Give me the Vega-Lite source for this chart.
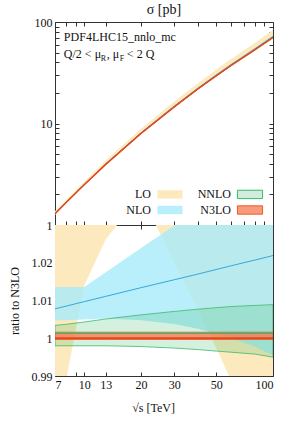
{
  "$schema": "https://vega.github.io/schema/vega-lite/v6.json",
  "background": "white",
  "padding": {"left": 7, "right": 6, "top": 2, "bottom": 2},
  "datasets": {
    "d": [
      {"s":7,"o":"LO","lo":1.256,"hi":1.367,"rlo":0.974,"rhi":1.06},
      {"s":8,"o":"LO","lo":1.641,"hi":1.768,"rlo":0.9888,"rhi":1.065},
      {"s":10,"o":"LO","lo":2.525,"hi":2.677,"rlo":1.014,"rhi":1.075},
      {"s":13,"o":"LO","lo":4.064,"hi":4.316,"rlo":1.0262,"rhi":1.09},
      {"s":20,"o":"LO","lo":8.304,"hi":8.88,"rlo":1.038,"rhi":1.11},
      {"s":30,"o":"LO","lo":14.89,"hi":16.5,"rlo":1.02,"rhi":1.13},
      {"s":40,"o":"LO","lo":22.06,"hi":24.97,"rlo":1.0075,"rhi":1.14},
      {"s":50,"o":"LO","lo":29.43,"hi":33.93,"rlo":0.9975,"rhi":1.15},
      {"s":60,"o":"LO","lo":36.88,"hi":43.27,"rlo":0.9888,"rhi":1.16},
      {"s":80,"o":"LO","lo":51.95,"hi":62.24,"rlo":0.9765,"rhi":1.17},
      {"s":100,"o":"LO","lo":68.17,"hi":83.19,"rlo":0.967,"rhi":1.18},

      {"s":7,"o":"NLO","lo":1.296,"hi":1.308,"c":1.3,"rlo":1.0047,"rhi":1.0136,"rc":1.0078},
      {"s":8,"o":"NLO","lo":1.668,"hi":1.683,"c":1.674,"rlo":1.0048,"rhi":1.0136,"rc":1.0085},
      {"s":10,"o":"NLO","lo":2.502,"hi":2.524,"c":2.514,"rlo":1.005,"rhi":1.0136,"rc":1.0097},
      {"s":13,"o":"NLO","lo":3.981,"hi":4.029,"c":4.004,"rlo":1.0052,"rhi":1.0175,"rc":1.0111},
      {"s":20,"o":"NLO","lo":8.038,"hi":8.191,"c":8.107,"rlo":1.0048,"rhi":1.0239,"rc":1.0134},
      {"s":30,"o":"NLO","lo":14.66,"hi":15.04,"c":14.83,"rlo":1.0038,"rhi":1.0298,"rc":1.0155},
      {"s":40,"o":"NLO","lo":21.95,"hi":22.65,"c":22.27,"rlo":1.0025,"rhi":1.0341,"rc":1.017},
      {"s":50,"o":"NLO","lo":29.54,"hi":30.6,"c":30.04,"rlo":1.0012,"rhi":1.0374,"rc":1.0182},
      {"s":60,"o":"NLO","lo":37.3,"hi":38.8,"c":38.02,"rlo":1.0,"rhi":1.0401,"rc":1.0192},
      {"s":80,"o":"NLO","lo":53.08,"hi":55.56,"c":54.3,"rlo":0.9978,"rhi":1.0443,"rc":1.0207},
      {"s":100,"o":"NLO","lo":70.18,"hi":73.86,"c":72.04,"rlo":0.9955,"rhi":1.0477,"rc":1.0219},

      {"s":7,"o":"NNLO","lo":1.287,"hi":1.294,"c":1.292,"rlo":0.998,"rhi":1.0034,"rc":1.0013},
      {"s":8,"o":"NNLO","lo":1.657,"hi":1.666,"c":1.662,"rlo":0.998,"rhi":1.0037,"rc":1.0013},
      {"s":10,"o":"NNLO","lo":2.485,"hi":2.501,"c":2.493,"rlo":0.998,"rhi":1.0043,"rc":1.0013},
      {"s":13,"o":"NNLO","lo":3.952,"hi":3.98,"c":3.965,"rlo":0.998,"rhi":1.0051,"rc":1.0013},
      {"s":20,"o":"NNLO","lo":7.982,"hi":8.05,"c":8.01,"rlo":0.9978,"rhi":1.0062,"rc":1.0013},
      {"s":30,"o":"NNLO","lo":14.56,"hi":14.7,"c":14.62,"rlo":0.9974,"rhi":1.0071,"rc":1.0013},
      {"s":40,"o":"NNLO","lo":21.83,"hi":22.07,"c":21.93,"rlo":0.997,"rhi":1.0077,"rc":1.0013},
      {"s":50,"o":"NNLO","lo":29.4,"hi":29.74,"c":29.54,"rlo":0.9966,"rhi":1.0081,"rc":1.0013},
      {"s":60,"o":"NNLO","lo":37.16,"hi":37.61,"c":37.35,"rlo":0.9963,"rhi":1.0084,"rc":1.0013},
      {"s":80,"o":"NNLO","lo":52.98,"hi":53.66,"c":53.27,"rlo":0.9958,"rhi":1.0087,"rc":1.0013},
      {"s":100,"o":"NNLO","lo":70.15,"hi":71.13,"c":70.59,"rlo":0.995,"rhi":1.0089,"rc":1.0013},

      {"s":7,"o":"N3LO","lo":1.2896,"hi":1.2921,"c":1.29,"rlo":0.9997,"rhi":1.0016,"rc":1},
      {"s":8,"o":"N3LO","lo":1.6595,"hi":1.6627,"c":1.66,"rlo":0.9997,"rhi":1.0016,"rc":1},
      {"s":10,"o":"N3LO","lo":2.4893,"hi":2.494,"c":2.49,"rlo":0.9997,"rhi":1.0016,"rc":1},
      {"s":13,"o":"N3LO","lo":3.9588,"hi":3.9663,"c":3.96,"rlo":0.9997,"rhi":1.0016,"rc":1},
      {"s":20,"o":"N3LO","lo":7.998,"hi":8.013,"c":8.0,"rlo":0.9997,"rhi":1.0016,"rc":1},
      {"s":30,"o":"N3LO","lo":14.596,"hi":14.623,"c":14.6,"rlo":0.9997,"rhi":1.0016,"rc":1},
      {"s":40,"o":"N3LO","lo":21.893,"hi":21.935,"c":21.9,"rlo":0.9997,"rhi":1.0016,"rc":1},
      {"s":50,"o":"N3LO","lo":29.491,"hi":29.547,"c":29.5,"rlo":0.9997,"rhi":1.0016,"rc":1},
      {"s":60,"o":"N3LO","lo":37.289,"hi":37.36,"c":37.3,"rlo":0.9997,"rhi":1.0016,"rc":1},
      {"s":80,"o":"N3LO","lo":53.184,"hi":53.285,"c":53.2,"rlo":0.9997,"rhi":1.0016,"rc":1},
      {"s":100,"o":"N3LO","lo":70.479,"hi":70.613,"c":70.5,"rlo":0.9997,"rhi":1.0016,"rc":1}
    ]
  },
  "data": {"name": "d"},
  "bounds": "flush",
  "spacing": 0,
  "vconcat": [
    {
      "width": 218,
      "height": 203,
      "title": {"text": "σ [pb]", "fontSize": 14, "fontWeight": "normal", "font": "Liberation Serif", "offset": -1, "color": "#111"},
      "layer": [
        {
          "transform": [{"filter": "datum.o === 'LO'"}],
          "mark": {"type": "area", "clip": true},
          "encoding": {
            "x": {"field": "s", "type": "quantitative", "scale": {"type": "log", "domain": [7, 100], "nice": false},
                  "axis": {"orient": "bottom", "labels": false, "title": null, "minExtent": 0, "maxExtent": 0, "values": [7,8,9,10,13,20,30,40,50,60,70,80,90,100]}},
            "y": {"field": "lo", "type": "quantitative", "scale": {"type": "log", "domain": [1, 100], "nice": false},
                  "axis": {"orient": "left", "title": null, "values": [1,2,3,4,5,6,7,8,9,10,20,30,40,50,60,70,80,90,100], "format": "d",
                           "labelExpr": "datum.value === 1 || datum.value === 10 || datum.value === 100 ? datum.label : ''"}},
            "y2": {"field": "hi"},
            "fill": {"datum": "LO", "type": "nominal",
                     "scale": {"domain": ["LO", "NNLO", "NLO", "N3LO"], "range": ["#fde9be", "rgba(60,185,107,0.25)", "rgba(168,235,250,0.8)", "rgba(245,120,80,0.75)"]},
                     "legend": {"orient": "none", "legendX": 106, "legendY": 163, "title": null, "columns": 2, "direction": "horizontal",
                                "symbolType": "M-1.5,-0.5H1.5V0.5H-1.5Z", "symbolSize": 280, "labelAlign": "right", "labelOffset": -28,
                                "labelFontSize": 12, "labelFont": "Liberation Serif", "labelColor": "#111", "columnPadding": 12, "rowPadding": 0,
                                "symbolStrokeWidth": 1, "labelLimit": 100,
                                "encode": {"symbols": {"update": {"stroke": {"signal": "datum.value === 'NNLO' ? '#3cb96b' : datum.value === 'N3LO' ? '#f05a28' : 'transparent'"}, "strokeWidth": {"value": 1}}}}}}
          }
        },
        {
          "transform": [{"filter": "datum.o === 'NLO'"}],
          "mark": {"type": "area", "clip": true},
          "encoding": {
            "x": {"field": "s", "type": "quantitative", "scale": {"type": "log", "domain": [7, 100], "nice": false}, "axis": null},
            "y": {"field": "lo", "type": "quantitative", "scale": {"type": "log", "domain": [1, 100], "nice": false}, "axis": null},
            "y2": {"field": "hi"},
            "fill": {"datum": "NLO", "type": "nominal"}
          }
        },
        {
          "transform": [{"filter": "datum.o === 'NNLO'"}],
          "mark": {"type": "area", "clip": true, "stroke": "#3cb96b", "strokeWidth": 0.6},
          "encoding": {
            "x": {"field": "s", "type": "quantitative", "scale": {"type": "log", "domain": [7, 100], "nice": false}, "axis": null},
            "y": {"field": "lo", "type": "quantitative", "scale": {"type": "log", "domain": [1, 100], "nice": false}, "axis": null},
            "y2": {"field": "hi"},
            "fill": {"datum": "NNLO", "type": "nominal"}
          }
        },
        {
          "transform": [{"filter": "datum.o === 'N3LO'"}],
          "mark": {"type": "area", "clip": true, "stroke": "#f05a28", "strokeWidth": 0.6},
          "encoding": {
            "x": {"field": "s", "type": "quantitative", "scale": {"type": "log", "domain": [7, 100], "nice": false}, "axis": null},
            "y": {"field": "lo", "type": "quantitative", "scale": {"type": "log", "domain": [1, 100], "nice": false}, "axis": null},
            "y2": {"field": "hi"},
            "fill": {"datum": "N3LO", "type": "nominal"}
          }
        },
        {
          "transform": [{"filter": "datum.o === 'NLO'"}],
          "mark": {"type": "line", "clip": true, "color": "#35a7dc", "strokeWidth": 1},
          "encoding": {
            "x": {"field": "s", "type": "quantitative", "scale": {"type": "log", "domain": [7, 100], "nice": false}, "axis": null},
            "y": {"field": "c", "type": "quantitative", "scale": {"type": "log", "domain": [1, 100], "nice": false}, "axis": null}
          }
        },
        {
          "transform": [{"filter": "datum.o === 'NNLO'"}],
          "mark": {"type": "line", "clip": true, "color": "#3cb96b", "strokeWidth": 1},
          "encoding": {
            "x": {"field": "s", "type": "quantitative", "scale": {"type": "log", "domain": [7, 100], "nice": false}, "axis": null},
            "y": {"field": "c", "type": "quantitative", "scale": {"type": "log", "domain": [1, 100], "nice": false}, "axis": null}
          }
        },
        {
          "transform": [{"filter": "datum.o === 'N3LO'"}],
          "mark": {"type": "line", "clip": true, "color": "#e8461a", "strokeWidth": 1.5},
          "encoding": {
            "x": {"field": "s", "type": "quantitative", "scale": {"type": "log", "domain": [7, 100], "nice": false},
                  "axis": {"orient": "top", "labels": false, "title": null, "minExtent": 0, "maxExtent": 0, "values": [7,8,9,10,13,20,30,40,50,60,70,80,90,100]}},
            "y": {"field": "c", "type": "quantitative", "scale": {"type": "log", "domain": [1, 100], "nice": false},
                  "axis": {"orient": "right", "labels": false, "title": null, "minExtent": 0, "maxExtent": 0, "values": [1,2,3,4,5,6,7,8,9,10,20,30,40,50,60,70,80,90,100]}}
          }
        },
        {
          "data": {"values": [{}]},
          "mark": {"type": "text", "align": "left", "baseline": "alphabetic", "fontSize": 12, "font": "Liberation Serif", "color": "#111", "text": "PDF4LHC15_nnlo_mc"},
          "encoding": {"x": {"datum": 7.8, "type": "quantitative", "axis": null}, "y": {"datum": 65, "type": "quantitative", "axis": null}}
        },
        {
          "data": {"values": [{}]},
          "mark": {"type": "text", "align": "left", "baseline": "alphabetic", "fontSize": 12, "font": "Liberation Serif", "color": "#111", "text": "Q/2 < μ"},
          "encoding": {"x": {"datum": 7.8, "type": "quantitative", "axis": null}, "y": {"datum": 44, "type": "quantitative", "axis": null}}
        },
        {
          "data": {"values": [{}]},
          "mark": {"type": "text", "align": "left", "baseline": "alphabetic", "fontSize": 8, "font": "Liberation Serif", "color": "#111", "text": "R", "dx": 37, "dy": 3},
          "encoding": {"x": {"datum": 7.8, "type": "quantitative", "axis": null}, "y": {"datum": 44, "type": "quantitative", "axis": null}}
        },
        {
          "data": {"values": [{}]},
          "mark": {"type": "text", "align": "left", "baseline": "alphabetic", "fontSize": 12, "font": "Liberation Serif", "color": "#111", "text": ", μ", "dx": 43},
          "encoding": {"x": {"datum": 7.8, "type": "quantitative", "axis": null}, "y": {"datum": 44, "type": "quantitative", "axis": null}}
        },
        {
          "data": {"values": [{}]},
          "mark": {"type": "text", "align": "left", "baseline": "alphabetic", "fontSize": 8, "font": "Liberation Serif", "color": "#111", "text": "F", "dx": 56, "dy": 3},
          "encoding": {"x": {"datum": 7.8, "type": "quantitative", "axis": null}, "y": {"datum": 44, "type": "quantitative", "axis": null}}
        },
        {
          "data": {"values": [{}]},
          "mark": {"type": "text", "align": "left", "baseline": "alphabetic", "fontSize": 12, "font": "Liberation Serif", "color": "#111", "text": "< 2 Q", "dx": 63},
          "encoding": {"x": {"datum": 7.8, "type": "quantitative", "axis": null}, "y": {"datum": 44, "type": "quantitative", "axis": null}}
        }
      ],
      "resolve": {"axis": {"x": "independent", "y": "independent"}}
    },
    {
      "width": 218,
      "height": 151,
      "layer": [
        {
          "transform": [{"filter": "datum.o === 'LO'"}],
          "mark": {"type": "area", "clip": true, "fill": "#fde9be"},
          "encoding": {
            "x": {"field": "s", "type": "quantitative", "scale": {"type": "log", "domain": [7, 100], "nice": false},
                  "axis": {"orient": "bottom", "title": "√s [TeV]", "titleX": 98, "titlePadding": 12, "format": "d",
                           "values": [7,8,9,10,13,20,30,40,50,60,70,80,90,100],
                           "labelExpr": "indexof([7,10,13,20,30,50,100], datum.value) >= 0 ? datum.label : ''"}},
            "y": {"field": "rlo", "type": "quantitative", "scale": {"domain": [0.99, 1.03], "nice": false, "zero": false},
                  "axis": {"orient": "left", "title": "ratio to N3LO", "titlePadding": 10, "values": [0.99, 1, 1.01, 1.02, 1.03], "format": "~g",
                           "labelExpr": "datum.value > 1.025 ? '' : datum.label"}},
            "y2": {"field": "rhi"}
          }
        },
        {
          "transform": [{"filter": "datum.o === 'NLO'"}],
          "mark": {"type": "area", "clip": true, "fill": "#a8ebfa", "fillOpacity": 0.8},
          "encoding": {
            "x": {"field": "s", "type": "quantitative", "scale": {"type": "log", "domain": [7, 100], "nice": false}, "axis": null},
            "y": {"field": "rlo", "type": "quantitative", "scale": {"domain": [0.99, 1.03], "nice": false, "zero": false}, "axis": null},
            "y2": {"field": "rhi"}
          }
        },
        {
          "transform": [{"filter": "datum.o === 'NNLO'"}],
          "mark": {"type": "area", "clip": true, "fill": "#3cb96b", "fillOpacity": 0.22, "stroke": "#3cb96b", "strokeWidth": 0.8},
          "encoding": {
            "x": {"field": "s", "type": "quantitative", "scale": {"type": "log", "domain": [7, 100], "nice": false}, "axis": null},
            "y": {"field": "rlo", "type": "quantitative", "scale": {"domain": [0.99, 1.03], "nice": false, "zero": false}, "axis": null},
            "y2": {"field": "rhi"}
          }
        },
        {
          "transform": [{"filter": "datum.o === 'NLO'"}],
          "mark": {"type": "line", "clip": true, "color": "#35a7dc", "strokeWidth": 1},
          "encoding": {
            "x": {"field": "s", "type": "quantitative", "scale": {"type": "log", "domain": [7, 100], "nice": false}, "axis": null},
            "y": {"field": "rc", "type": "quantitative", "scale": {"domain": [0.99, 1.03], "nice": false, "zero": false}, "axis": null}
          }
        },
        {
          "transform": [{"filter": "datum.o === 'N3LO'"}],
          "mark": {"type": "area", "clip": true, "fill": "#f57850", "fillOpacity": 0.75, "stroke": "#f05a28", "strokeWidth": 0.8},
          "encoding": {
            "x": {"field": "s", "type": "quantitative", "scale": {"type": "log", "domain": [7, 100], "nice": false}, "axis": null},
            "y": {"field": "rlo", "type": "quantitative", "scale": {"domain": [0.99, 1.03], "nice": false, "zero": false}, "axis": null},
            "y2": {"field": "rhi"}
          }
        },
        {
          "transform": [{"filter": "datum.o === 'NNLO'"}],
          "mark": {"type": "line", "clip": true, "color": "#3cb96b", "strokeWidth": 1.2},
          "encoding": {
            "x": {"field": "s", "type": "quantitative", "scale": {"type": "log", "domain": [7, 100], "nice": false}, "axis": null},
            "y": {"field": "rc", "type": "quantitative", "scale": {"domain": [0.99, 1.03], "nice": false, "zero": false}, "axis": null}
          }
        },
        {
          "transform": [{"filter": "datum.o === 'N3LO'"}],
          "mark": {"type": "line", "clip": true, "color": "#e8461a", "strokeWidth": 2},
          "encoding": {
            "x": {"field": "s", "type": "quantitative", "scale": {"type": "log", "domain": [7, 100], "nice": false},
                  "axis": {"orient": "top", "labels": false, "title": null, "minExtent": 0, "maxExtent": 0, "values": [7,8,9,10,13,20,30,40,50,60,70,80,90,100]}},
            "y": {"field": "rc", "type": "quantitative", "scale": {"domain": [0.99, 1.03], "nice": false, "zero": false},
                  "axis": {"orient": "right", "labels": false, "title": null, "minExtent": 0, "maxExtent": 0, "values": [0.99, 1, 1.01, 1.02, 1.03]}}
          }
        }
      ],
      "resolve": {"axis": {"x": "independent", "y": "independent"}}
    }
  ],
  "config": {
    "font": "Liberation Serif",
    "view": {"stroke": "#333", "strokeWidth": 1},
    "axis": {"grid": false, "domain": false, "tickColor": "#333", "tickSize": -4, "labelPadding": 7,
             "labelFontSize": 12, "labelColor": "#111", "labelFont": "Liberation Serif",
             "titleFontSize": 12, "titleFontWeight": "normal", "titleFont": "Liberation Serif", "titleColor": "#111"}
  }
}
